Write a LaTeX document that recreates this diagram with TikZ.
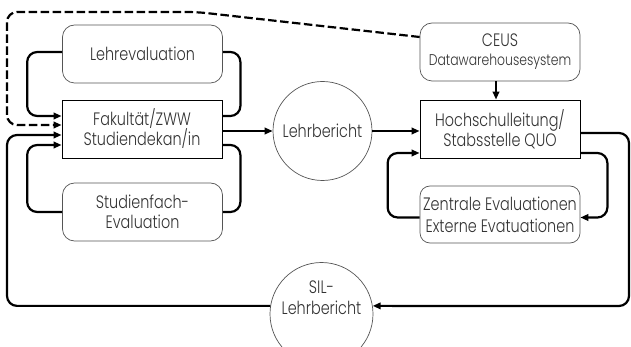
\documentclass[tikz,border=0pt]{standalone}
\usepackage{fontspec}
\setmainfont{Poppins}[UprightFont=* Light, FakeStretch=0.8]
\usetikzlibrary{arrows.meta}
\definecolor{txt}{HTML}{333333}
\definecolor{rbord}{HTML}{555555}
\begin{document}
\begin{tikzpicture}[x=1pt,y=-1pt,
  every node/.style={text=txt, align=center, font=\fontsize{18}{20}\selectfont},
  sqbox/.style={draw=black, line width=0.8pt, minimum width=160pt, minimum height=58pt, inner sep=0pt},
  rbox/.style={draw=rbord, line width=0.7pt, rounded corners=12pt, minimum width=160pt, minimum height=58pt, inner sep=0pt},
  circ/.style={draw=rbord, line width=0.7pt, circle, inner sep=0pt},
  conn/.style={draw=black, line width=2.2pt, rounded corners=10pt},
  arr/.style={-{Triangle[length=8pt,width=6.5pt]}},
  dconn/.style={conn, dash pattern=on 8.5pt off 3.5pt}
]
\useasboundingbox (0,0) rectangle (631,347);

\node[rbox] (lehr) at (142.5,54) {Lehrevaluation};
\node[sqbox] (fak) at (142,129) {Fakultät/ZWW\\Studiendekan/in};
\node[rbox] (stud) at (142.5,212) {Studienfach-\\Evaluation};
\node[circ, minimum size=99pt] (lb) at (322.5,131) {Lehrbericht};
\node[rbox] (ceus) at (500,52) {CEUS\\[-1pt]{\fontsize{15.5}{18}\selectfont Datawarehousesystem}};
\node[sqbox] (hs) at (500,129) {Hochschulleitung/\\Stabsstelle QUO};
\node[rbox, rounded corners=10pt, minimum height=57pt] (zen) at (500,214.5) {Zentrale Evaluationen\\[2pt]Externe Evatuationen};
\node[circ, minimum size=103pt] (sil) at (321.5,314) {};
\node (silt) at (321.5,298) {SIL-\\[1pt]Lehrbericht};

% Lehrevaluation loop
\draw[conn,arr] ([yshift=2pt]lehr.west) -- ++(-35,0) |- ([yshift=13pt]fak.west);
\draw[conn] ([yshift=13pt]fak.east) -- ++(18,0) |- ([yshift=2pt]lehr.east);
% Studienfach loop
\draw[conn,arr] (stud.west) -- ++(-35,0) |- ([yshift=-16pt]fak.west);
\draw[conn] ([yshift=-16pt]fak.east) -- ++(18,0) |- (stud.east);
% dashed CEUS
\draw[dconn,arr] ([yshift=15pt]ceus.west) -- (197,12) -| (7,125) -- ([yshift=4pt]fak.west);
% main flow
\draw[conn,arr] (fak.east |- lb.west) -- (lb.west);
\draw[conn,arr] (lb.east) -- (lb.east -| hs.west);
\draw[conn,arr] ([xshift=-4pt]ceus.south) -- ([xshift=-4pt]hs.north);
% SIL loop
\draw[conn,arr] ([yshift=-4pt]hs.east) -| (629,306) -- (sil.9);
\draw[conn,arr] (sil.171) -| (7,135) -- ([yshift=-6pt]fak.west);
% HS loop
\draw[conn,arr] ([yshift=-24pt]hs.east) -- ++(27,0) |- ([yshift=-3pt]zen.east);
\draw[conn,arr] ([yshift=-3pt]zen.west) -- ++(-32,0) |- ([yshift=-24pt]hs.west);
\end{tikzpicture}
\end{document}
